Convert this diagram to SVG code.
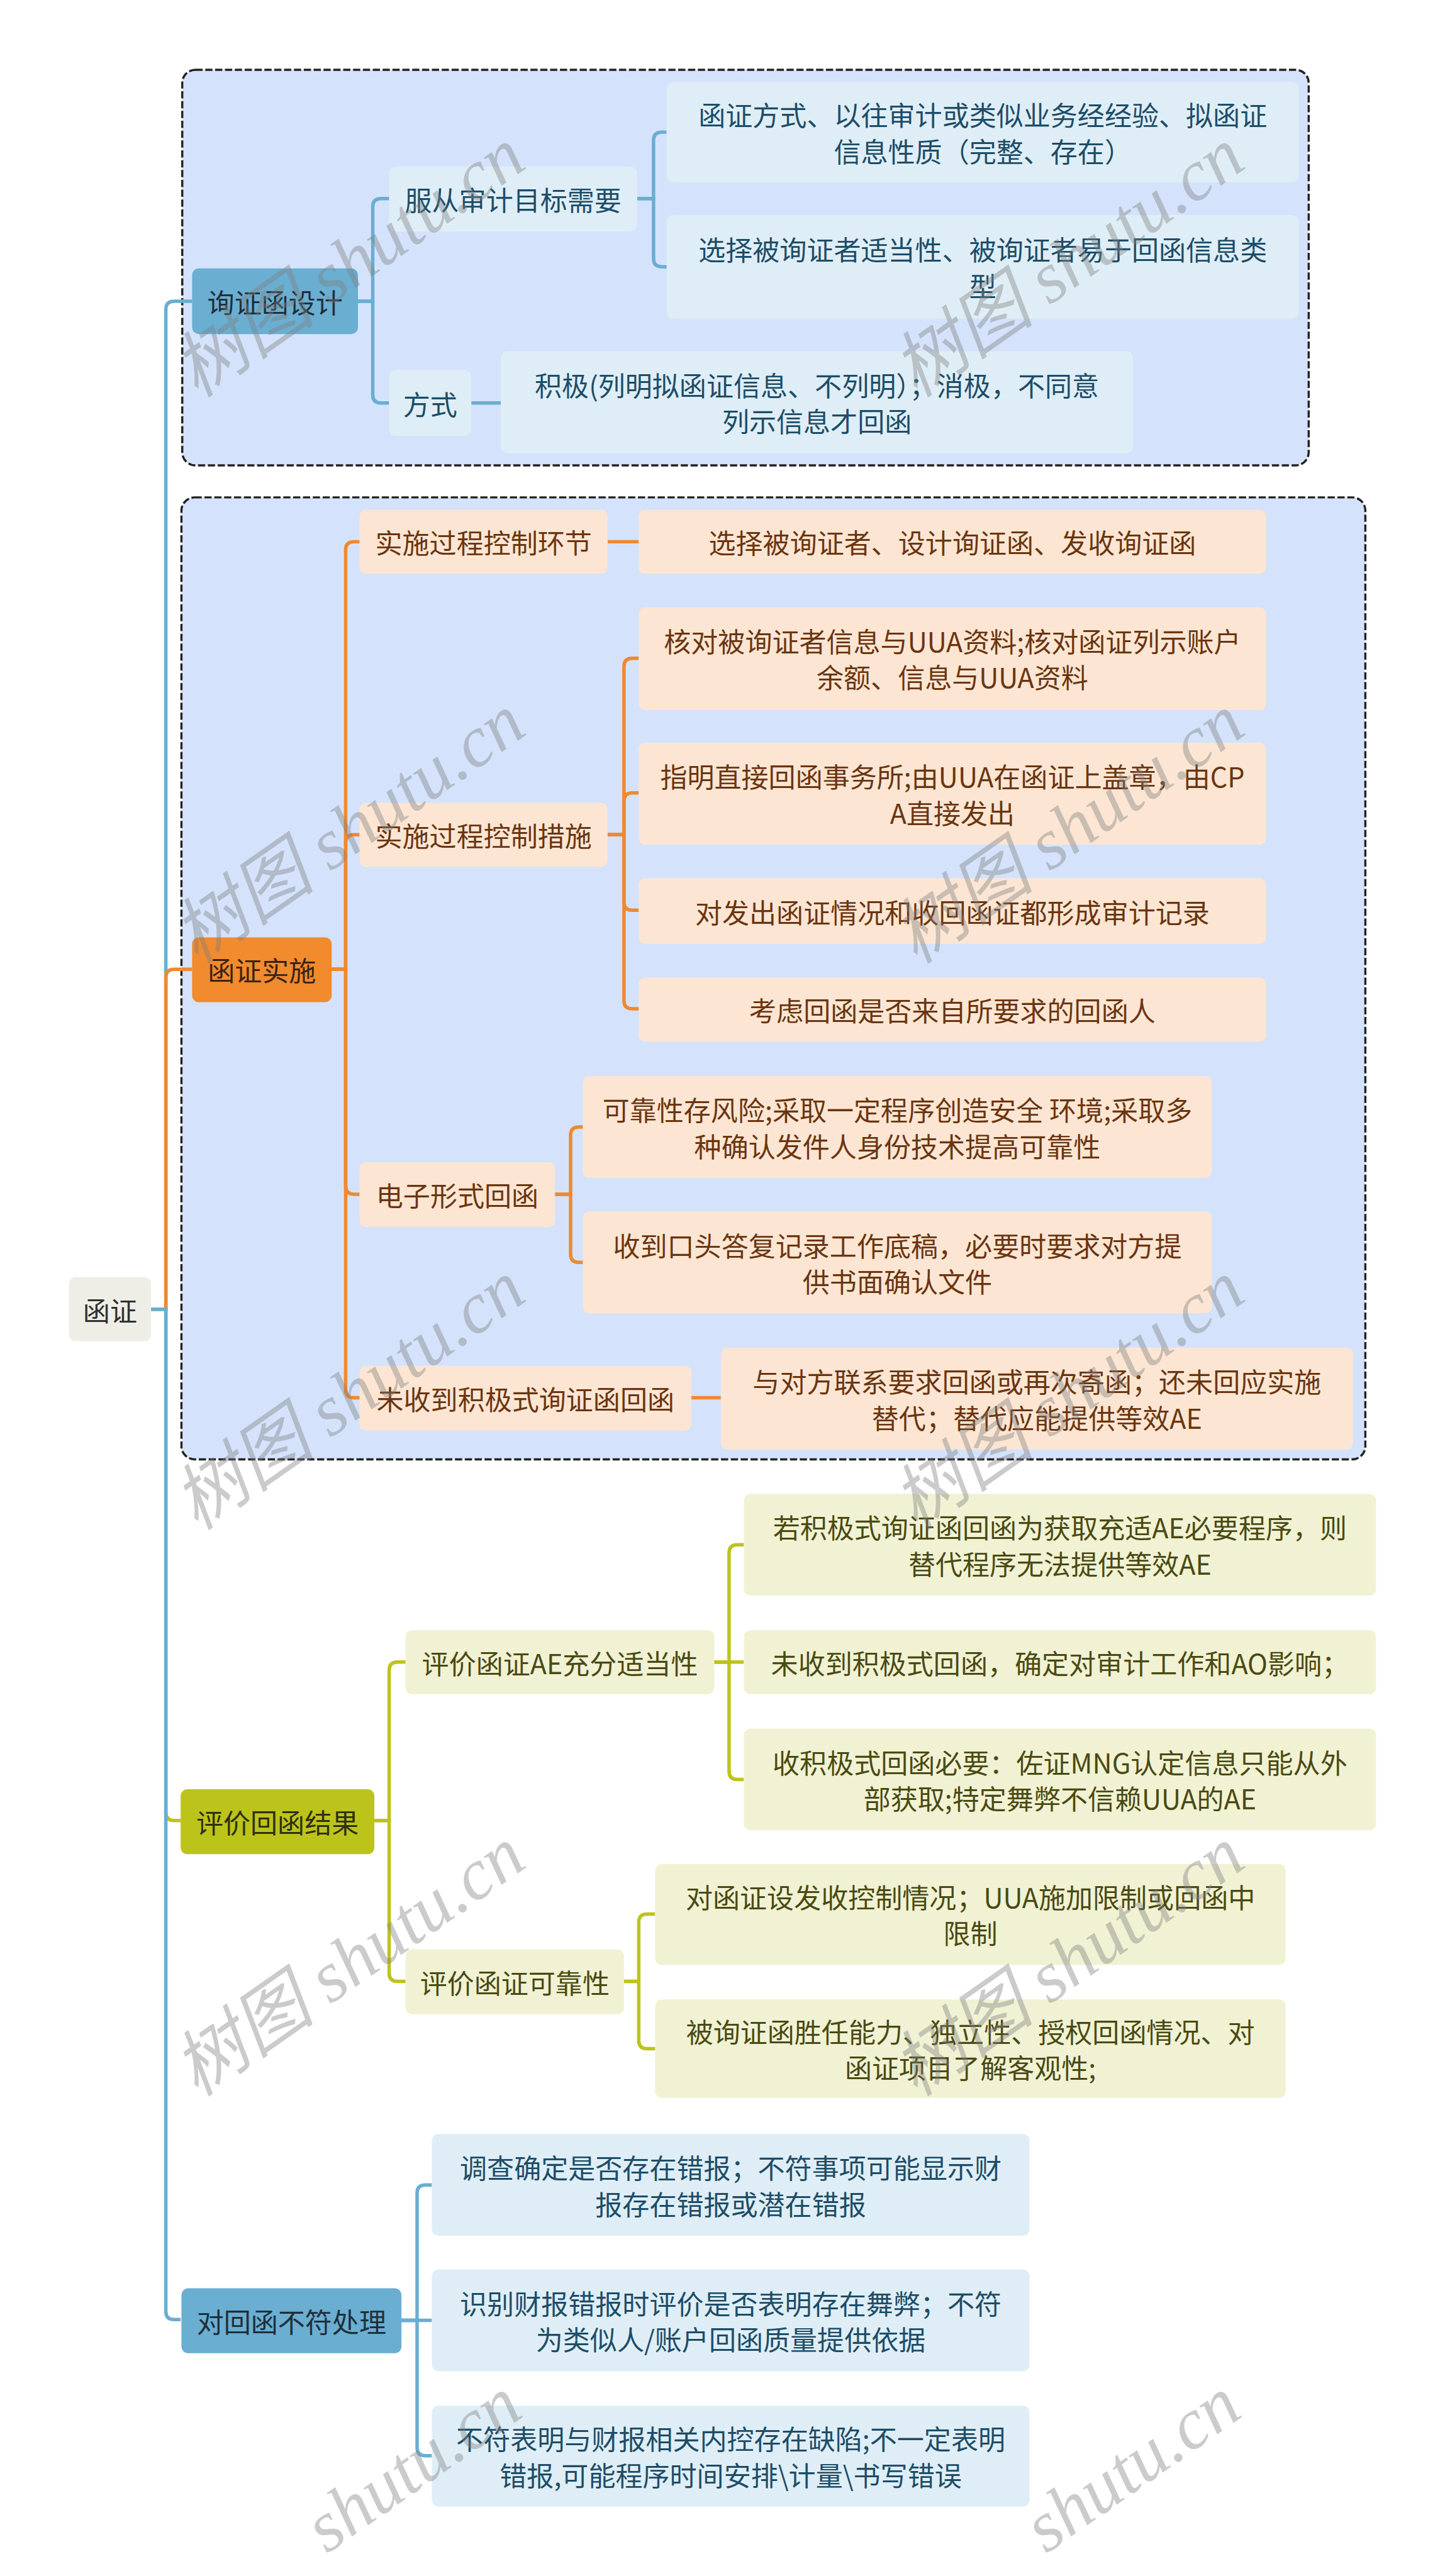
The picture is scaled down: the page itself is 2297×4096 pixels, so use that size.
<svg xmlns="http://www.w3.org/2000/svg" width="2297" height="4096" viewBox="0 0 2297 4096">
<style>
text{font-family:"Noto Sans CJK SC","Noto Sans",sans-serif;font-size:16.5px;text-anchor:middle;dominant-baseline:central}
.box{fill:#D4E3FB;stroke:#222;stroke-width:1.3;stroke-dasharray:4.4 1.6}
.root rect{fill:#EEEEE6}.root text{fill:#303030}
.mb rect{fill:#6AAED1}.mb text{fill:#1F2F3A}
.sb rect{fill:#DFEEF6}.sb text{fill:#1D4D68}
.mo rect{fill:#F28A2E}.mo text{fill:#3A2414}
.so rect{fill:#FCE6D3}.so text{fill:#6B3510}
.my rect{fill:#BCC41B}.my text{fill:#2F3010}
.sy rect{fill:#F1F2D4}.sy text{fill:#4A4A12}
.c{fill:none;stroke-width:2.1}
.cb{stroke:#6AAED1}.co{stroke:#F0892F}.cy{stroke:#BCC41B}
.wm{font-family:"Liberation Serif","Noto Sans CJK SC",serif;font-style:italic;font-size:44px;fill:#7f7f7f;opacity:0.4;text-anchor:start;dominant-baseline:auto}
</style>
<rect x="0" y="0" width="2297" height="4096" fill="#FFFFFF"/>
<g transform="scale(2.6102)">
<rect class="box" x="111" y="42.5" width="686" height="241" rx="8"/>
<rect class="box" x="110.5" y="303" width="721" height="586" rx="8"/>
<g id="connectors">
<path class="c cb" d="M92,797.5 H101 V188.5 Q101,183.5 106,183.5 H117"/>
<path class="c co" d="M92,797.5 H101 V595.5 Q101,590.5 106,590.5 H117"/>
<path class="c cy" d="M92,797.5 H101 V1104 Q101,1109 106,1109 H110"/>
<path class="c cb" d="M92,797.5 H101 V1408 Q101,1413 106,1413 H110"/>
<path class="c cb" d="M218,183.5 H227 V126 Q227,121 232,121 H237"/>
<path class="c cb" d="M218,183.5 H227 V240.5 Q227,245.5 232,245.5 H237"/>
<path class="c cb" d="M388,121 H398 V85.5 Q398,80.5 403,80.5 H406"/>
<path class="c cb" d="M388,121 H398 V157.5 Q398,162.5 403,162.5 H406"/>
<path class="c cb" d="M287,245.5 H305"/>
<path class="c co" d="M202,590.5 H210.5 V335 Q210.5,330 215.5,330 H219"/>
<path class="c co" d="M202,590.5 H210.5 V513.5 Q210.5,508.5 215.5,508.5 H219"/>
<path class="c co" d="M202,590.5 H210.5 V722.5 Q210.5,727.5 215.5,727.5 H219"/>
<path class="c co" d="M202,590.5 H210.5 V846.5 Q210.5,851.5 215.5,851.5 H219"/>
<path class="c co" d="M370,330 H389"/>
<path class="c co" d="M370,508.5 H380 V406 Q380,401 385,401 H389"/>
<path class="c co" d="M370,508.5 H380 V488 Q380,483 385,483 H389"/>
<path class="c co" d="M370,508.5 H380 V549.5 Q380,554.5 385,554.5 H389"/>
<path class="c co" d="M370,508.5 H380 V609.5 Q380,614.5 385,614.5 H389"/>
<path class="c co" d="M338,727.5 H347.5 V691.5 Q347.5,686.5 352.5,686.5 H355"/>
<path class="c co" d="M338,727.5 H347.5 V764 Q347.5,769 352.5,769 H355"/>
<path class="c co" d="M421,851.5 H439"/>
<path class="c cy" d="M228,1109 H237 V1017.5 Q237,1012.5 242,1012.5 H247"/>
<path class="c cy" d="M228,1109 H237 V1202 Q237,1207 242,1207 H247"/>
<path class="c cy" d="M435,1012.5 H444 V946 Q444,941 449,941 H453"/>
<path class="c cy" d="M435,1012.5 H453"/>
<path class="c cy" d="M435,1012.5 H444 V1079 Q444,1084 449,1084 H453"/>
<path class="c cy" d="M380,1207 H389 V1171 Q389,1166 394,1166 H399"/>
<path class="c cy" d="M380,1207 H389 V1243 Q389,1248 394,1248 H399"/>
<path class="c cb" d="M244.5,1413.5 H254 V1336 Q254,1331 259,1331 H263"/>
<path class="c cb" d="M244.5,1413.5 H263"/>
<path class="c cb" d="M244.5,1413.5 H254 V1491 Q254,1496 259,1496 H263"/>
</g>
<g id="root" class="root"><rect x="42" y="778" width="50" height="39" rx="4"/><text x="67" y="797.5">函证</text></g>
<g id="b1" class="mb"><rect x="117" y="163.5" width="101" height="40" rx="4"/><text x="167.5" y="183.5">询证函设计</text></g>
<g id="b1a" class="sb"><rect x="237" y="101.5" width="151" height="39.5" rx="4"/><text x="312.5" y="121">服从审计目标需要</text></g>
<g id="b1a1" class="sb"><rect x="406" y="50" width="385" height="61" rx="4"/><text x="598.5" y="69.5">函证方式、以往审计或类似业务经经验、拟函证</text><text x="598.5" y="91.5">信息性质（完整、存在）</text></g>
<g id="b1a2" class="sb"><rect x="406" y="131" width="385" height="63" rx="4"/><text x="598.5" y="151.5">选择被询证者适当性、被询证者易于回函信息类</text><text x="598.5" y="173.5">型</text></g>
<g id="b1b" class="sb"><rect x="237" y="225.5" width="50" height="40" rx="4"/><text x="262" y="245.5">方式</text></g>
<g id="b1b1" class="sb"><rect x="305" y="214" width="385" height="62" rx="4"/><text x="497.5" y="234">积极(列明拟函证信息、不列明）；消极，不同意</text><text x="497.5" y="256">列示信息才回函</text></g>
<g id="b2" class="mo"><rect x="117" y="571" width="85" height="39.5" rx="4"/><text x="159.5" y="590.5">函证实施</text></g>
<g id="b2a" class="so"><rect x="219" y="310.5" width="151" height="39" rx="4"/><text x="294.5" y="330">实施过程控制环节</text></g>
<g id="b2a1" class="so"><rect x="389" y="310.5" width="382" height="39" rx="4"/><text x="580" y="330">选择被询证者、设计询证函、发收询证函</text></g>
<g id="b2b" class="so"><rect x="219" y="489" width="151" height="39" rx="4"/><text x="294.5" y="508.5">实施过程控制措施</text></g>
<g id="b2b1" class="so"><rect x="389" y="370" width="382" height="62.5" rx="4"/><text x="580" y="390">核对被询证者信息与UUA资料;核对函证列示账户</text><text x="580" y="412">余额、信息与UUA资料</text></g>
<g id="b2b2" class="so"><rect x="389" y="452.5" width="382" height="62" rx="4"/><text x="580" y="472.5">指明直接回函事务所;由UUA在函证上盖章，由CP</text><text x="580" y="494.5">A直接发出</text></g>
<g id="b2b3" class="so"><rect x="389" y="535" width="382" height="40" rx="4"/><text x="580" y="555">对发出函证情况和收回函证都形成审计记录</text></g>
<g id="b2b4" class="so"><rect x="389" y="595.5" width="382" height="39" rx="4"/><text x="580" y="615">考虑回函是否来自所要求的回函人</text></g>
<g id="b2c" class="so"><rect x="219" y="708" width="119" height="39.5" rx="4"/><text x="278.5" y="727.5">电子形式回函</text></g>
<g id="b2c1" class="so"><rect x="355" y="655.5" width="383" height="62" rx="4"/><text x="546.5" y="675.5">可靠性存风险;采取一定程序创造安全 环境;采取多</text><text x="546.5" y="697.5">种确认发件人身份技术提高可靠性</text></g>
<g id="b2c2" class="so"><rect x="355" y="738" width="383" height="62" rx="4"/><text x="546.5" y="758">收到口头答复记录工作底稿，必要时要求对方提</text><text x="546.5" y="780">供书面确认文件</text></g>
<g id="b2d" class="so"><rect x="219" y="832" width="202" height="39.5" rx="4"/><text x="320" y="851.5">未收到积极式询证函回函</text></g>
<g id="b2d1" class="so"><rect x="439" y="821" width="385" height="62" rx="4"/><text x="631.5" y="841">与对方联系要求回函或再次寄函；还未回应实施</text><text x="631.5" y="863">替代；替代应能提供等效AE</text></g>
<g id="b3" class="my"><rect x="110" y="1090" width="118" height="39.5" rx="4"/><text x="169" y="1109.5">评价回函结果</text></g>
<g id="b3a" class="sy"><rect x="247" y="993" width="188" height="39" rx="4"/><text x="341" y="1012.5">评价函证AE充分适当性</text></g>
<g id="b3a1" class="sy"><rect x="453" y="910" width="385" height="62" rx="4"/><text x="645.5" y="930">若积极式询证函回函为获取充适AE必要程序，则</text><text x="645.5" y="952">替代程序无法提供等效AE</text></g>
<g id="b3a2" class="sy"><rect x="453" y="993" width="385" height="39" rx="4"/><text x="645.5" y="1012.5">未收到积极式回函，确定对审计工作和AO影响；</text></g>
<g id="b3a3" class="sy"><rect x="453" y="1053" width="385" height="62" rx="4"/><text x="645.5" y="1073">收积极式回函必要：佐证MNG认定信息只能从外</text><text x="645.5" y="1095">部获取;特定舞弊不信赖UUA的AE</text></g>
<g id="b3b" class="sy"><rect x="247" y="1187.5" width="133" height="39.5" rx="4"/><text x="313.5" y="1207">评价函证可靠性</text></g>
<g id="b3b1" class="sy"><rect x="399" y="1135.5" width="384" height="61.5" rx="4"/><text x="591" y="1155">对函证设发收控制情况；UUA施加限制或回函中</text><text x="591" y="1177">限制</text></g>
<g id="b3b2" class="sy"><rect x="399" y="1218" width="384" height="60" rx="4"/><text x="591" y="1237">被询证函胜任能力、独立性、授权回函情况、对</text><text x="591" y="1259">函证项目了解客观性;</text></g>
<g id="b4" class="mb"><rect x="110.5" y="1394" width="134" height="39.5" rx="4"/><text x="177.5" y="1413.5">对回函不符处理</text></g>
<g id="b4a1" class="sb"><rect x="263" y="1300" width="364" height="62" rx="4"/><text x="445" y="1320">调查确定是否存在错报；不符事项可能显示财</text><text x="445" y="1342">报存在错报或潜在错报</text></g>
<g id="b4a2" class="sb"><rect x="263" y="1382.5" width="364" height="62" rx="4"/><text x="445" y="1402.5">识别财报错报时评价是否表明存在舞弊；不符</text><text x="445" y="1424.5">为类似人/账户回函质量提供依据</text></g>
<g id="b4a3" class="sb"><rect x="263" y="1465.5" width="364" height="61.5" rx="4"/><text x="445" y="1485">不符表明与财报相关内控存在缺陷;不一定表明</text><text x="445" y="1507">错报,可能程序时间安排\计量\书写错误</text></g>
<g id="watermarks">
<text class="wm" transform="translate(120,243) rotate(-35)">树图 shutu.cn</text>
<text class="wm" transform="translate(558,243) rotate(-35)">树图 shutu.cn</text>
<text class="wm" transform="translate(120,588) rotate(-35)">树图 shutu.cn</text>
<text class="wm" transform="translate(558,588) rotate(-35)">树图 shutu.cn</text>
<text class="wm" transform="translate(120,933) rotate(-35)">树图 shutu.cn</text>
<text class="wm" transform="translate(558,933) rotate(-35)">树图 shutu.cn</text>
<text class="wm" transform="translate(120,1278) rotate(-35)">树图 shutu.cn</text>
<text class="wm" transform="translate(558,1278) rotate(-35)">树图 shutu.cn</text>
<text class="wm" transform="translate(199,1556) rotate(-35)">shutu.cn</text>
<text class="wm" transform="translate(637,1556) rotate(-35)">shutu.cn</text>
</g>
</g>
</svg>
